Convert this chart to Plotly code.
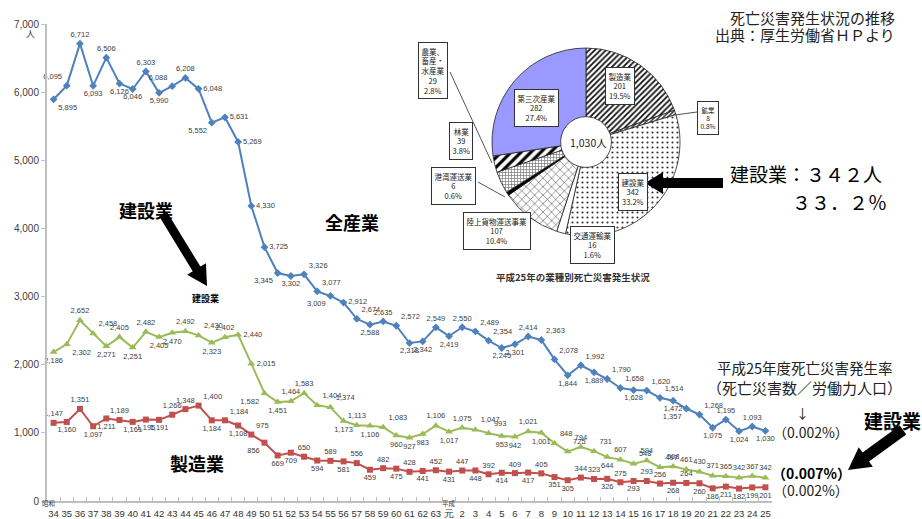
import plotly.graph_objects as go

# ---- data -------------------------------------------------------------
years = ["34", "35", "36", "37", "38", "39", "40", "41", "42", "43",
         "44", "45", "46", "47", "48", "49", "50", "51", "52", "53",
         "54", "55", "56", "57", "58", "59", "60", "61", "62", "63",
         "元", "2", "3", "4", "5", "6", "7", "8", "9", "10",
         "11", "12", "13", "14", "15", "16", "17", "18", "19", "20",
         "21", "22", "23", "24", "25"]

all_industries = [5895, 6095, 6712, 6093, 6506, 6126, 6046, 6303, 5990, 6088,
                  6208, 6048, 5552, 5631, 5269, 4330, 3725, 3345, 3302, 3326,
                  3077, 3009, 2912, 2674, 2588, 2635, 2572, 2318, 2342, 2549,
                  2419, 2550, 2489, 2354, 2245, 2301, 2414, 2363, 2078, 1844,
                  1992, 1889, 1790, 1658, 1628, 1620, 1514, 1472, 1357, 1268,
                  1075, 1195, 1024, 1093, 1030]

construction = [2186, 2302, 2652, 2458, 2271, 2405, 2251, 2482, 2405, 2470,
                2492, 2430, 2323, 2402, 2440, 2015, 1582, 1451, 1464, 1583,
                1404, 1374, 1173, 1113, 1106, 1083, 960, 927, 983, 1106,
                1017, 1075, 1047, 993, 953, 942, 1021, 1001, 848, 725,
                794, 731, 644, 607, 548, 594, 497, 508, 461, 430,
                371, 365, 342, 367, 342]

manufacturing = [1147, 1160, 1351, 1097, 1211, 1189, 1161, 1195, 1191, 1266,
                 1348, 1400, 1184, 1184, 1108, 975, 856, 669, 709, 650,
                 594, 589, 581, 556, 459, 482, 475, 428, 441, 452,
                 431, 447, 448, 392, 414, 409, 417, 405, 351, 305,
                 344, 323, 326, 275, 293, 293, 256, 268, 264, 260,
                 186, 211, 182, 199, 201]

pie_labels = ["製造業", "鉱業", "建設業", "交通運輸業", "陸上貨物運送事業",
              "港湾運送業", "林業", "農業、畜産・水産業", "第三次産業"]
pie_values = [201, 8, 342, 16, 107, 6, 39, 29, 282]

y_ticks = [0, 1000, 2000, 3000, 4000, 5000, 6000, 7000]

# ---- label placement (one code per point) -----------------------------
POS = {"t": "top center", "b": "bottom center", "r": "middle right",
       "l": "middle left", "tr": "top right", "tl": "top left",
       "br": "bottom right", "bl": "bottom left"}

all_pos = ("br tl t b t b b t b tl t r bl r r r r bl b tr "
           "tr bl r tr b t tr b b t "
           "b t tr tr b b t tr tr b tr b tr tr b tr tr b bl tr b t b t b").split()
con_pos = ("b br t tr b t b t b b t tr b t r r bl b t t "
           "tr tr b t b tr b b b t "
           "b t tr tr b b t b tr tr t tr b t tr t tr t t t t t t t t").split()
man_pos = ("t b t b b t b b b t t tr b tr b tr bl b b t "
           "b t b t b t b t b t "
           "b t b t b t b t b b t t b t b t t b t b b b b b b").split()

# ---- geometry helpers (pixel -> paper) --------------------------------
W, H = 922, 519
L, R, T, B = 47, 150, 24, 18
PW, PH = W - L - R, H - T - B


def px(x):
    return (x - L) / PW


def py(y):
    return (H - B - y) / PH


def arrow_path(x0, y0, x1, y1, shaft, head_w, head_len):
    dx, dy = x1 - x0, y1 - y0
    n = (dx * dx + dy * dy) ** 0.5
    ux, uy = dx / n, dy / n
    nx, ny = -uy, ux
    bx, by = x1 - ux * head_len, y1 - uy * head_len
    pts = [(x0 + nx * shaft / 2, y0 + ny * shaft / 2),
           (bx + nx * shaft / 2, by + ny * shaft / 2),
           (bx + nx * head_w / 2, by + ny * head_w / 2),
           (x1, y1),
           (bx - nx * head_w / 2, by - ny * head_w / 2),
           (bx - nx * shaft / 2, by - ny * shaft / 2),
           (x0 - nx * shaft / 2, y0 - ny * shaft / 2)]
    return "M " + " L ".join(f"{px(a):.5f},{py(b):.5f}" for a, b in pts) + " Z"


JP = "Noto Sans CJK JP"
NUM = "Liberation Sans"
LBL = dict(family=NUM, size=7.5, color="#404040")

fig = go.Figure()


def add_series(vals, pos, color, symbol, size, name):
    fig.add_trace(go.Scatter(
        x=years, y=vals, name=name, mode="lines+markers+text",
        line=dict(color=color, width=2),
        marker=dict(symbol=symbol, size=size, color=color),
        text=[f"{v:,}" for v in vals],
        textposition=[POS[p] for p in pos],
        textfont=LBL, cliponaxis=False, showlegend=False,
        hoverinfo="skip"))


add_series(all_industries, all_pos, "#4F81BD", "diamond", 6, "全産業")
add_series(construction, con_pos, "#9BBB59", "triangle-up", 7, "建設業")
add_series(manufacturing, man_pos, "#C0504D", "square", 6, "製造業")

# ---- pie of fatalities by industry ------------------------------------
pie_cx, pie_cy, pie_r = 586, 142, 94
fig.add_trace(go.Pie(
    labels=pie_labels, values=pie_values, sort=False, direction="clockwise",
    rotation=0, hole=0.27, textinfo="none", showlegend=False, hoverinfo="skip",
    domain=dict(x=[px(pie_cx - pie_r), px(pie_cx + pie_r)],
                y=[py(pie_cy + pie_r), py(pie_cy - pie_r)]),
    marker=dict(
        colors=["white", "#555555", "white", "white", "white",
                "black", "white", "white", "#9999FF"],
        line=dict(color="#222222", width=0.8),
        pattern=dict(
            shape=["/", "/", ".", "", "x", "", "+", "/", ""],
            fgcolor=["#111111", "#333333", "#333333", "white", "#222222",
                     "black", "#777777", "black", "#9999FF"],
            bgcolor=["white", "white", "white", "white", "white",
                     "black", "white", "white", "#9999FF"],
            size=[4, 3, 5, 6, 6, 6, 3, 7, 6],
            solidity=[0.45, 0.5, 0.15, 0.1, 0.15, 0.1, 0.4, 0.45, 0.1],
            fillmode="replace")),
))

total = sum(pie_values)
box_text = {"農業、畜産・水産業": "農業、<br>畜産・<br>水産業"}
box_pos = {"製造業": (620, 86, 7.5), "鉱業": (708, 118, 6.5),
           "建設業": (633, 192, 7.5), "交通運輸業": (592, 245, 7.5),
           "陸上貨物運送事業": (497, 231, 7.5), "港湾運送業": (453, 186, 7.5),
           "林業": (461, 141, 7.5), "農業、畜産・水産業": (433, 70, 7.5),
           "第三次産業": (536, 108, 7.5)}

annotations = []
for lab, val in zip(pie_labels, pie_values):
    bx, by, fs = box_pos[lab]
    annotations.append(dict(
        x=px(bx), y=py(by), xref="paper", yref="paper", showarrow=False,
        text=f"{box_text.get(lab, lab)}<br>{val}<br>{val / total * 100:.1f}%",
        font=dict(family=JP, size=fs, color="#222222"),
        bgcolor="white", bordercolor="#333333", borderwidth=1, borderpad=2.5,
        xanchor="center", yanchor="middle"))

annotations.append(dict(x=px(pie_cx + 2), y=py(pie_cy), xref="paper", yref="paper",
                        showarrow=False, text=f"{total:,}人",
                        xanchor="center", yanchor="middle",
                        font=dict(family=JP, size=10.5, color="#222222")))
annotations.append(dict(x=px(573), y=py(277), xref="paper", yref="paper",
                        showarrow=False, text="<b>平成25年の業種別死亡災害発生状況</b>",
                        xanchor="center", yanchor="middle",
                        font=dict(family=JP, size=9.5, color="#333333")))

leaders = [((675, 115), (697, 112)), ((478, 182), (505, 197)),
           ((450, 72), (492, 163))]
shapes = []
for (a, b), (c, d) in leaders:
    shapes.append(dict(type="line", xref="paper", yref="paper",
                       x0=px(a), y0=py(b), x1=px(c), y1=py(d),
                       line=dict(color="#555555", width=1)))

# ---- thick arrows ----------------------------------------------------
for a in [(163, 214, 207, 286, 9, 22, 20),
          (723, 183, 645, 183, 10, 22, 18),
          (903, 430, 848, 470, 11, 24, 22)]:
    shapes.append(dict(type="path", xref="paper", yref="paper",
                       path=arrow_path(*a), fillcolor="black",
                       line=dict(width=0)))


def txt(x, y, s, size, anchor="center", bold=False, color="black"):
    annotations.append(dict(
        x=px(x), y=py(y), xref="paper", yref="paper", showarrow=False,
        text=f"<b>{s}</b>" if bold else s, xanchor=anchor, yanchor="middle",
        font=dict(family=JP, size=size, color=color)))


txt(146, 210, "建設業", 18, bold=True)
txt(352, 222, "全産業", 18, bold=True)
txt(197, 463, "製造業", 18, bold=True)
txt(205, 298, "建設業", 9, bold=True)
txt(862, 420, "建設業", 19, anchor="left", bold=True)

txt(897, 17, "死亡災害発生状況の推移", 15, anchor="right", color="#222222")
txt(897, 35, "出典：厚生労働省ＨＰより", 15, anchor="right", color="#222222")
txt(728, 173, "建設業：３４２人", 19, anchor="left")
txt(889, 202, "３３．２％", 19, anchor="right")

txt(805, 367, "平成25年度死亡災害発生率", 14.5, color="#222222")
txt(804, 387, "（死亡災害数／労働力人口）", 15, color="#222222")
txt(803, 412, "↓", 13, color="#222222")
txt(811, 432, "（0.002%）", 14, color="#222222")
txt(811, 473, "（0.007%）", 14, bold=True)
txt(811, 490, "（0.002%）", 14, color="#222222")

# era markers and unit
txt(30, 33, "人", 9, color="#404040")
txt(48, 503, "昭和", 6.5, color="#404040")
txt(449, 503, "平成", 6.5, color="#404040")

fig.update_layout(
    width=W, height=H, margin=dict(l=L, r=R, t=T, b=B, pad=0),
    paper_bgcolor="white", plot_bgcolor="white",
    annotations=annotations, shapes=shapes,
    xaxis=dict(type="category", range=[-0.5, len(years) - 0.5],
               showgrid=False, showline=True, linecolor="#BFBFBF", linewidth=2,
               ticks="inside", ticklen=4, tickcolor="#BFBFBF",
               tickson="boundaries", automargin=False, ticklabelstandoff=3,
               tickfont=dict(family=NUM, size=9.5, color="#333333"),
               tickangle=0, zeroline=False),
    yaxis=dict(range=[0, 7000], tickvals=y_ticks, tickformat=",",
               showgrid=False, showline=True, linecolor="#BFBFBF", linewidth=2,
               ticks="outside", ticklen=4, tickcolor="#BFBFBF",
               automargin=False, zeroline=False,
               tickfont=dict(family=NUM, size=10, color="#404040")),
)

fig.write_html("out.html")
